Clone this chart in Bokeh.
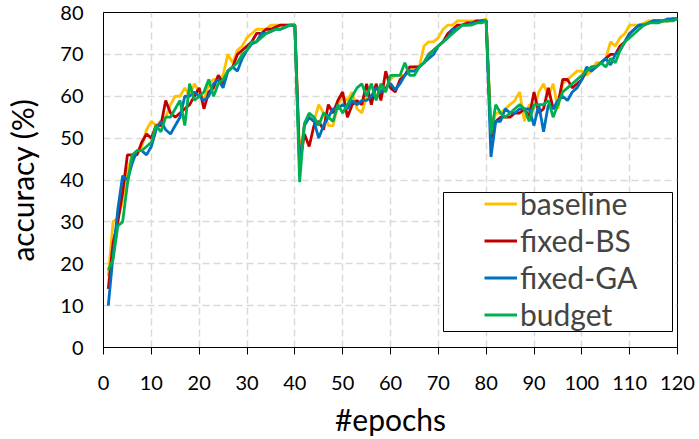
from bokeh.plotting import figure
from bokeh.models import Legend, LegendItem, BoxAnnotation, FixedTicker, Range1d
from bokeh.embed import file_html
from bokeh.resources import INLINE

epochs = list(range(1, 121))

baseline = [17, 30, 31, 35, 42, 46, 46, 48, 52, 54,
            53, 54, 55, 58, 60, 60, 62, 60, 63, 61,
            59, 63, 64, 64, 65, 70, 68, 71, 72, 74,
            75, 76, 76, 76, 77, 77, 77, 77, 77, 77,
            46, 53, 55, 54, 58, 56, 53, 53, 58, 60,
            59, 61, 57, 56, 60, 63, 60, 60, 62, 64,
            65, 65, 65, 66, 67, 67, 72, 73, 73, 74,
            76, 77, 77, 78, 78, 78, 78, 78, 78, 78.5,
            52, 56, 56, 57, 58, 59, 61, 54, 58, 57,
            61, 63, 60, 63, 57, 63, 64, 65, 66, 66,
            65, 66, 68, 68, 69, 73, 72, 74, 75, 77,
            77, 77, 77.5, 78, 78, 78, 78, 78, 78.5, 78.5]

fixed_bs = [14, 25, 30, 37, 46, 46, 46, 49, 51, 50,
            53, 53, 59, 56, 55, 56, 57, 58, 60, 62,
            57, 61, 62, 65, 63, 66, 67, 70, 71, 72,
            73, 75, 75, 76, 76, 76.5, 77, 77, 77, 77,
            44, 51, 48, 53, 54, 52, 58, 56, 59, 61,
            55, 58, 59, 58, 63, 58, 63, 59, 66, 62,
            61, 64, 65, 67, 67, 67, 68, 70, 71, 72,
            73, 75, 76, 77, 77, 77.5, 77.5, 78, 78, 78,
            50, 54, 55, 55, 55, 56, 56, 57, 55, 61,
            56, 57, 62, 57, 58, 64, 64, 62, 63, 64,
            66, 67, 67, 68, 69, 70, 70, 72, 73, 75,
            76, 77, 77, 77.5, 78, 78, 78, 78, 78.5, 78.5]

fixed_ga = [10, 22, 33, 41, 40, 44, 47, 47, 46, 48,
            52, 54, 52, 51, 53, 55, 60, 60, 61, 60,
            59, 60, 63, 64, 62, 66, 67, 66, 69, 71,
            72.5, 73, 75, 75, 75.5, 76, 76, 76.5, 77, 77,
            43, 53, 55, 54, 50, 53, 55, 57, 57, 58,
            57, 59, 58, 59, 59, 60, 62, 61, 62, 63,
            61.5, 63, 65, 66, 66, 67, 68, 69, 70, 72,
            73, 74, 76, 76, 77, 77, 77.5, 77.5, 78, 78,
            45.5, 54, 54, 57, 56, 56, 57, 57, 57, 53,
            58, 51.5, 58, 57, 59, 60, 59, 61, 62, 64,
            67, 66, 67, 68, 69, 67.5, 70, 71, 73, 75,
            76, 77, 77, 77.5, 78, 78, 78, 78.5, 78.5, 78.5]

budget = [18.5, 21, 29, 30, 39, 46, 47, 47, 48, 49,
          53, 51.5, 55, 55, 57, 59, 53, 63, 59, 60,
          61, 64, 60, 63, 64, 66, 67, 68, 70, 71,
          73, 73, 74, 75, 75.5, 76, 76, 76.5, 77, 77,
          39.5, 53.5, 56, 55, 53, 56, 55, 54, 58, 56,
          58, 60, 62, 63, 60, 63, 59, 63, 61, 65,
          65, 65, 68, 65, 65, 67, 68, 70, 71, 72,
          73, 74, 75, 76, 77, 77, 77, 77.5, 77.5, 78,
          51, 58, 56, 55, 56, 57, 58, 57, 54, 58,
          58, 58, 59, 55, 58, 61, 62, 63, 64, 65,
          66, 67, 67, 68, 67, 69, 68, 71, 73, 74,
          75, 76, 77, 77.5, 77.5, 77.5, 78, 78, 78, 78.5]

series_names = ["baseline", "fixed-BS", "fixed-GA", "budget"]
series_values = [baseline, fixed_bs, fixed_ga, budget]
series_colors = ["#FFC000", "#C00000", "#0070C0", "#00B050"]

x_ticks = list(range(0, 121, 10))
y_ticks = list(range(0, 81, 10))

FONT = "Lato"

p = figure(width=699, height=439, output_backend="svg", toolbar_location=None,
           x_range=Range1d(0, 120), y_range=Range1d(0, 80),
           min_border_left=103, min_border_right=22, min_border_top=12,
           min_border_bottom=92)
p.background_fill_color = "white"
p.border_fill_color = "white"
p.outline_line_color = "black"
p.outline_line_width = 1
p.outline_line_alpha = 1

renderers = []
for vals, col in zip(series_values, series_colors):
    r = p.line(epochs, vals, line_color=col, line_width=2.8)
    renderers.append(r)

p.xaxis.ticker = FixedTicker(ticks=x_ticks)
p.yaxis.ticker = FixedTicker(ticks=y_ticks)
p.xaxis.axis_label = "#epochs"
p.yaxis.axis_label = "accuracy (%)"
for ax in (p.xaxis, p.yaxis):
    ax.axis_label_text_font = FONT
    ax.axis_label_text_font_size = "30px"
    ax.axis_label_text_font_style = "normal"
    ax.axis_label_text_color = "black"
    ax.major_label_text_font = FONT
    ax.major_label_text_font_size = "20px"
    ax.major_label_text_color = "black"
    ax.minor_tick_line_color = None
    ax.axis_line_color = "black"
p.yaxis.major_tick_line_color = None
p.yaxis.major_label_standoff = 14
p.yaxis.axis_label_standoff = 17
p.xaxis.major_tick_out = 7
p.xaxis.major_tick_in = 0
p.xaxis.major_tick_line_color = "black"
p.xaxis.major_label_standoff = 21
p.xaxis.axis_label_standoff = 8

for g in (p.xgrid, p.ygrid):
    g.grid_line_color = "#d9d9d9"
    g.grid_line_dash = "7 4"
    g.grid_line_width = 1.5

box = BoxAnnotation(left=340, right=569, bottom=16, top=155,
                    left_units="screen", right_units="screen",
                    top_units="screen", bottom_units="screen",
                    fill_color="white", fill_alpha=1,
                    line_color="black", line_width=1, line_alpha=1)
p.add_layout(box)

legend = Legend(items=[LegendItem(label=n, renderers=[r]) for n, r in zip(series_names, renderers)],
                location=(377, 11), glyph_width=33, glyph_height=35, label_standoff=3,
                padding=4, spacing=1, label_height=35,
                label_text_font=FONT, label_text_font_size="30px",
                border_line_alpha=0, background_fill_alpha=0)
p.add_layout(legend)

open("out.html", "w").write(file_html(p, INLINE))
